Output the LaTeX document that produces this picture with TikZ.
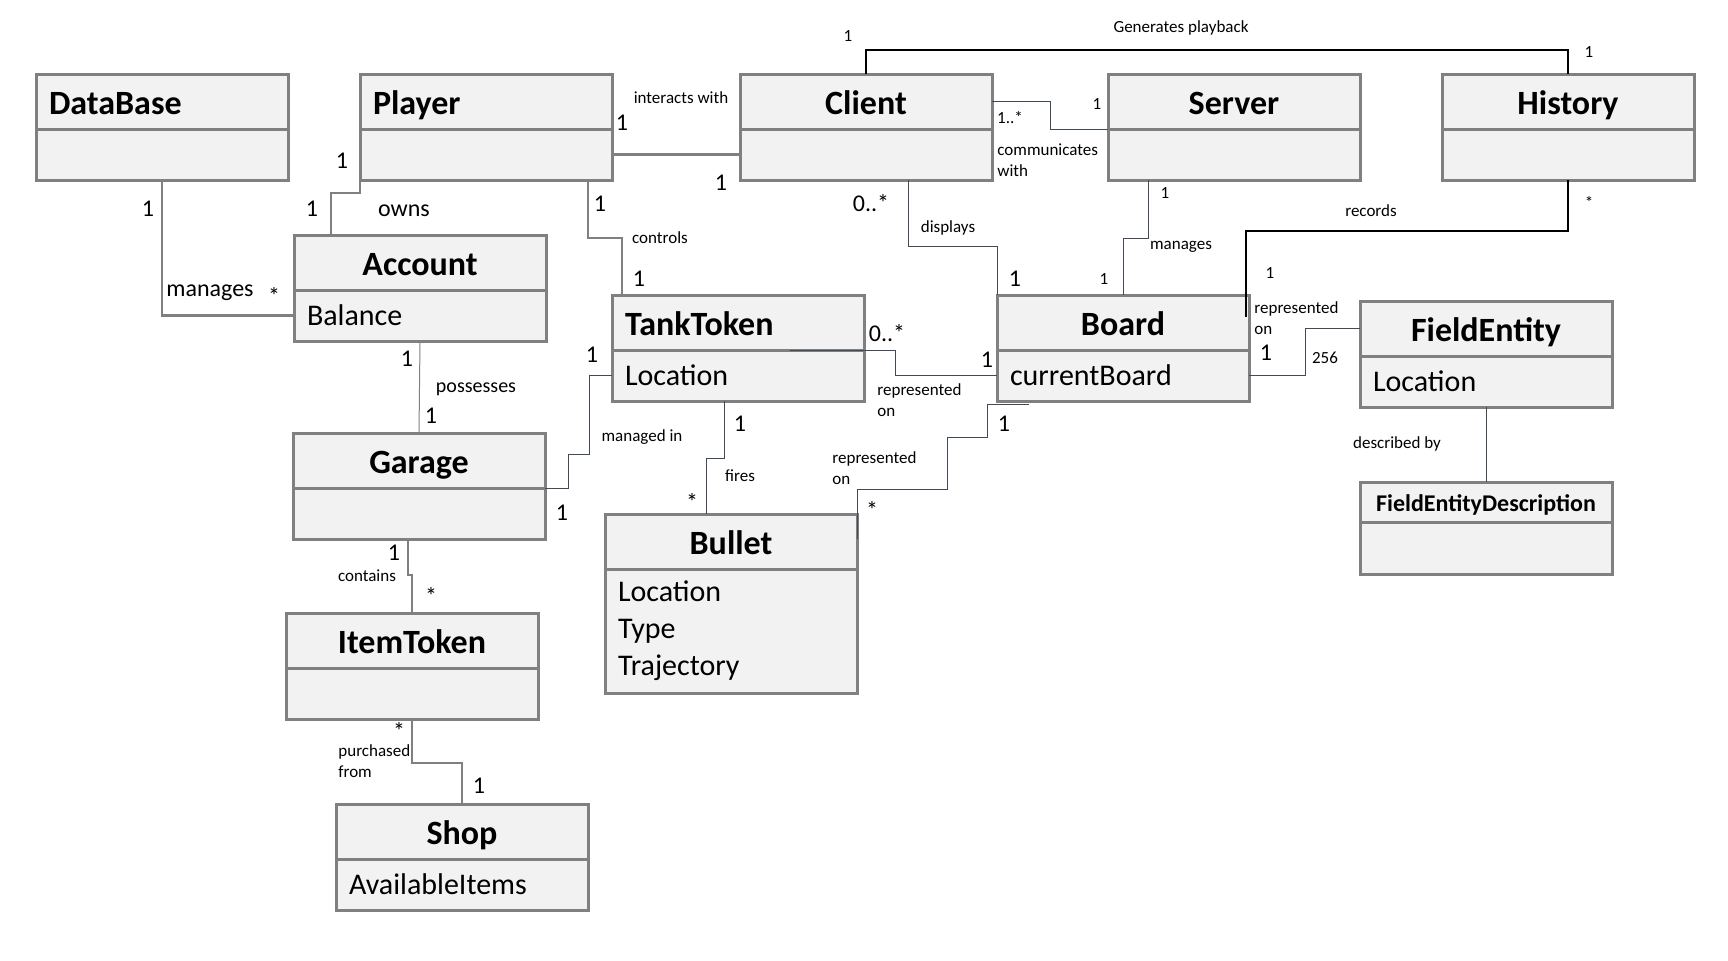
\documentclass[tikz,border=0pt]{standalone}
\usepackage{fontspec}
\setmainfont{Carlito}
\usepackage{tikz}
\usetikzlibrary{positioning}
\definecolor{boxfill}{HTML}{F2F2F2}
\definecolor{boxgray}{HTML}{808080}
\definecolor{linedark}{HTML}{414B57}
\tikzstyle{title} = [rectangle, draw=boxgray, fill=boxfill, line width=1.5pt,
    outer sep=0pt, minimum width=126pt, minimum height=27.5pt, inner xsep=6.5pt,
    inner ysep=2pt, text height=15.8pt, text depth=3pt,
    font=\fontsize{17}{20}\selectfont\bfseries]
\tikzstyle{lefttitle} = [title, text width=113pt, align=left]
\tikzstyle{attrs} = [rectangle, draw=boxgray, fill=boxfill, line width=1.5pt,
    outer sep=0pt, minimum height=25.5pt, text width=113pt, inner xsep=6.5pt,
    align=left, font=\fontsize{15}{18.5}\selectfont]
\tikzstyle{heavy} = [draw=boxgray, line width=1.4pt]
\tikzstyle{line} = [draw=linedark, line width=0.5pt]
\tikzstyle{blackline} = [draw=black, line width=0.55pt]
\tikzstyle{big} = [inner sep=0pt, font=\fontsize{12}{14}\selectfont]
\tikzstyle{small} = [inner sep=0pt, font=\fontsize{8.5}{10.5}\selectfont]
\tikzstyle{twoline} = [small, anchor=west, align=left]

\begin{document}
\begin{tikzpicture}[x=0.5pt, y=-0.5pt]
    \useasboundingbox[fill=white] (0,0) rectangle (1728,960);
    % Place classes
    \node[lefttitle, anchor=north west] (database) at (36,74) {DataBase};
    \node[attrs, below=0pt of database] (database-attr) {};
    \node[lefttitle, anchor=north west] (player) at (360,74) {Player};
    \node[attrs, below=0pt of player] (player-attr) {};
    \node[title, anchor=north west] (client) at (740,74) {Client};
    \node[attrs, below=0pt of client] (client-attr) {};
    \node[title, anchor=north west] (server) at (1108,74) {Server};
    \node[attrs, below=0pt of server] (server-attr) {};
    \node[title, anchor=north west] (history) at (1442,74) {History};
    \node[attrs, below=0pt of history] (history-attr) {};
    \node[title, anchor=north west] (account) at (294,235) {Account};
    \node[attrs, below=0pt of account] (account-attr) {Balance};
    \node[lefttitle, anchor=north west] (tanktoken) at (612,295) {TankToken};
    \node[attrs, below=0pt of tanktoken] (tanktoken-attr) {Location};
    \node[title, anchor=north west] (board) at (997,295) {Board};
    \node[attrs, below=0pt of board] (board-attr) {currentBoard};
    \node[title, anchor=north west] (fieldentity) at (1360,301) {FieldEntity};
    \node[attrs, below=0pt of fieldentity] (fieldentity-attr) {Location};
    \node[title, anchor=north west, minimum height=20pt, text height=11.5pt, text depth=2.2pt,
        font=\fontsize{12}{14}\selectfont\bfseries] (fed) at (1360,482) {FieldEntityDescription};
    \node[attrs, below=0pt of fed, minimum height=26pt] (fed-attr) {};
    \node[title, anchor=north west] (garage) at (293,433) {Garage};
    \node[attrs, below=0pt of garage] (garage-attr) {};
    \node[title, anchor=north west] (bullet) at (605,514) {Bullet};
    \node[attrs, below=0pt of bullet, minimum height=62pt] (bullet-attr) {Location\\Type\\Trajectory};
    \node[title, anchor=north west] (itemtoken) at (286,613) {ItemToken};
    \node[attrs, below=0pt of itemtoken] (itemtoken-attr) {};
    \node[title, anchor=north west] (shop) at (336,804) {Shop};
    \node[attrs, below=0pt of shop] (shop-attr) {AvailableItems};
    % Draw edges
    \path [heavy] (database-attr.south) |- (account-attr.west);
    \path [heavy] (player-attr.south west) -- ++(0,13) -| ([xshift=18.5pt]account.north west);
    \path [heavy] ([xshift=-12pt]player-attr.south east) -- ++(0,58) -| ([xshift=5pt]tanktoken.north west);
    \path [heavy] (player-attr.east) -- (client-attr.west);
    \path [line] (client.east) -- ++(58,0) |- (server.south west);
    \path [blackline] (client.north) -- ++(0,-24) -| (history.north);
    \path [line] ([xshift=21pt]client-attr.south) -- ++(0,66) -| (board.north west);
    \path [line] ([xshift=20pt]server-attr.south west) -- ++(0,58) -| (board.north);
    \path [blackline] (history-attr.south) -- ++(0,51) -| ([xshift=-1.5pt, yshift=-11pt]board.north east);
    \path [line] ([xshift=-37pt]tanktoken.south east) -- ++(105,0) |- (board-attr.west);
    \path [line] (board-attr.east) -- ++(56,0) |- (fieldentity.west);
    \path [line] (fieldentity-attr.south) -- (fed.north);
    \path [line, draw=boxgray] (account-attr.south) -- (garage.north);
    \path [line] (garage.south east) -- ++(23,0) |- ++(21,-34) |- (tanktoken-attr.west);
    \path [line] ([xshift=-7pt]tanktoken-attr.south) -- ++(0,57) -| ([xshift=-12.5pt]bullet.north);
    \path [line] ([yshift=-12.5pt]bullet.north east) |- ++(90,-50) |- ++(40,-52) |- ([xshift=16pt, yshift=-1.5pt]board-attr.south west);
    \path [heavy] ([xshift=-5.5pt]garage-attr.south) -- ++(0,36) -| (itemtoken.north);
    \path [heavy] (itemtoken-attr.south) -- ++(0,44) -| (shop.north);
    % Multiplicities and labels
    \foreach \x/\y/\t [count=\i] in {342/161/1, 312/209/1, 148/209/1, 404/211/owns,
        210/293/manages, 274/296/*, 622/123/1, 721/183/1, 600/204/1, 639/279/1,
        871/203/0..*, 1015/279/1, 887/333/0..*, 987/360/1, 1266/353/1, 407/359/1,
        431/416/1, 592/355/1, 562/513/1, 740/424/1, 692/502/*, 872/510/*,
        1004/424/1, 394/553/1, 431/596/*, 399/731/*, 479/786/1}
        \node[big] (big\i) at (\x,\y) {\t};
    \foreach \x/\y/\t [count=\i] in {681/98/interacts with, 660/238/controls,
        1010/118/1..*, 1097/104/1, 848/36/1, 1181/28/Generates playback, 1589/52/1,
        948/228/displays, 1165/193/1, 1181/247/manages, 1104/279/1, 1589/202/*,
        1371/211/records, 1270/273/1, 1325/358/256, 1397/444/described by,
        642/437/managed in, 740/476/fires, 367/576/contains}
        \node[small] (small\i) at (\x,\y) {\t};
    \node[small, font=\fontsize{10}{12}\selectfont] (possesses) at (476,389) {possesses};
    \node[twoline] (comm) at (997,160) {communicates\\with};
    \node[twoline] (rep1) at (1254,318) {represented\\on};
    \node[twoline] (rep2) at (877,400) {represented\\on};
    \node[twoline] (rep3) at (832,468) {represented\\on};
    \node[twoline] (purch) at (338,761) {purchased\\from};
\end{tikzpicture}
\end{document}
